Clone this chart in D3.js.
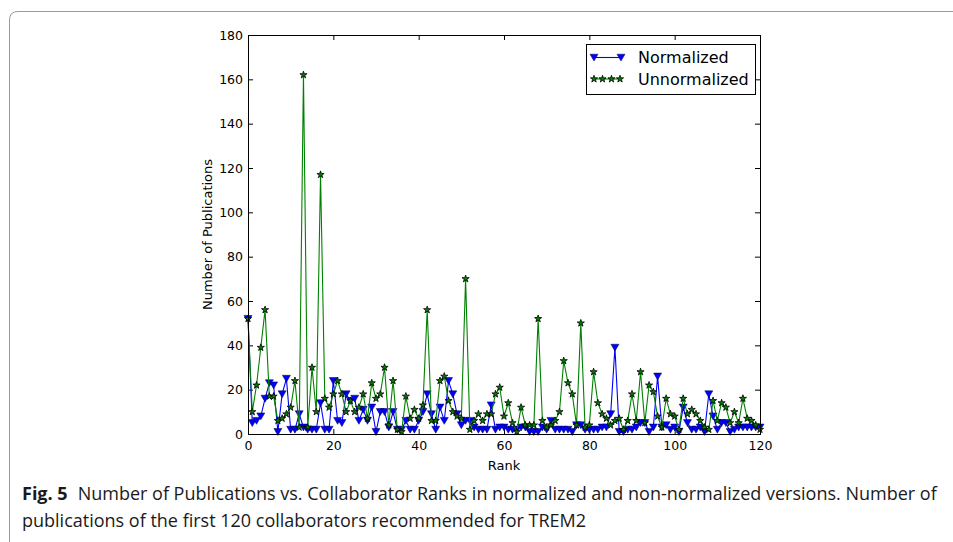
<!DOCTYPE html>
<html>
<head>
<meta charset="utf-8">
<script src="https://cdn.jsdelivr.net/npm/d3@7"></script>
<style>
  html, body { margin: 0; padding: 0; background: #fff; }
  svg { display: block; }
</style>
</head>
<body>
<svg id="fig" width="953" height="542"></svg>
<script>
// Collaborator ranks 0..120
const ranks = d3.range(0, 121);

// Number of publications per collaborator, ranked by normalized score
const normalized = [
  52, 5, 6, 8, 16, 23, 22, 1, 18, 25,
  2, 2, 9, 3, 2, 2, 2, 14, 2, 2,
  24, 6, 5, 18, 15, 16, 6, 11, 6, 12,
  1, 10, 10, 3, 10, 2, 2, 6, 2, 2,
  6, 10, 18, 9, 2, 12, 6, 24, 18, 9,
  4, 6, 6, 3, 2, 2, 2, 13, 2, 3,
  3, 2, 2, 2, 3, 3, 1, 1, 1, 3,
  2, 6, 2, 2, 2, 2, 1, 4, 4, 2,
  2, 2, 2, 3, 3, 9, 39, 1, 1, 2,
  2, 3, 5, 5, 1, 3, 26, 3, 4, 2,
  3, 1, 12, 5, 2, 2, 3, 1, 18, 8,
  2, 5, 5, 1, 2, 3, 3, 3, 3, 3,
  3
];

// Number of publications per collaborator, ranked by unnormalized score
const unnormalized = [
  52, 10, 22, 39, 56, 17, 17, 6, 7, 9,
  12, 24, 3, 162, 3, 30, 10, 117, 16, 12,
  18, 24, 18, 10, 15, 10, 12, 18, 7, 23,
  16, 18, 30, 4, 24, 2, 1, 17, 7, 11,
  7, 13, 56, 6, 6, 24, 26, 15, 10, 8,
  7, 70, 2, 6, 9, 6, 9, 9, 18, 21,
  8, 14, 5, 1, 12, 4, 4, 4, 52, 6,
  3, 4, 6, 10, 33, 23, 18, 4, 50, 3,
  4, 28, 14, 9, 7, 4, 6, 7, 2, 6,
  18, 6, 28, 5, 22, 19, 8, 3, 16, 9,
  8, 2, 16, 9, 11, 9, 6, 3, 2, 15,
  6, 14, 12, 5, 10, 5, 16, 7, 6, 4,
  2
];

const xTicks = [0, 20, 40, 60, 80, 100, 120];
const yTicks = [0, 20, 40, 60, 80, 100, 120, 140, 160, 180];
const seriesNames = ["Normalized", "Unnormalized"];
const captionLabel = "Fig. 5";
const captionLine1 = "Number of Publications vs. Collaborator Ranks in normalized and non-normalized versions. Number of";
const captionLine2 = "publications of the first 120 collaborators recommended for TREM2";

const svg = d3.select("#fig");
const plotFont = "'DejaVu Sans', sans-serif";

// Frame around the figure panel
svg.append("path")
  .attr("d", "M9.5,542 L9.5,20 Q9.5,11.5 18,11.5 L953,11.5")
  .attr("fill", "none")
  .attr("stroke", "#9a9a9a")
  .attr("stroke-width", 1);

const L = 248, R = 760, T = 35, B = 434;
const x = d3.scaleLinear().domain([0, 120]).range([L, R]);
const y = d3.scaleLinear().domain([0, 180]).range([B, T]);

const tickLen = 5;
function styleAxis(g) {
  g.select(".domain").remove();
  g.selectAll("line").attr("stroke", "#000").attr("stroke-width", 1);
  g.selectAll("text").attr("font-family", plotFont).attr("font-size", 12.5).attr("fill", "#000");
}

// Axes with inward ticks on all four sides
svg.append("g").attr("transform", `translate(0,${B})`)
  .call(d3.axisBottom(x).tickValues(xTicks).tickSizeInner(-tickLen).tickSizeOuter(0).tickPadding(7))
  .call(styleAxis);
svg.append("g").attr("transform", `translate(0,${T})`)
  .call(d3.axisTop(x).tickValues(xTicks).tickSizeInner(-tickLen).tickSizeOuter(0).tickFormat(""))
  .call(styleAxis);
svg.append("g").attr("transform", `translate(${L},0)`)
  .call(d3.axisLeft(y).tickValues(yTicks).tickSizeInner(-tickLen).tickSizeOuter(0).tickPadding(5))
  .call(styleAxis);
svg.append("g").attr("transform", `translate(${R},0)`)
  .call(d3.axisRight(y).tickValues(yTicks).tickSizeInner(-tickLen).tickSizeOuter(0).tickFormat(""))
  .call(styleAxis);

// Markers
const triPath = "M-4,-3.3 L4,-3.3 L0,3.6 Z";
const starSym = d3.symbol().type(d3.symbolStar).size(16);

const plot = svg.append("g");

const line = d3.line().x((d, i) => x(ranks[i])).y(d => y(d));

plot.append("path").datum(normalized)
  .attr("d", line).attr("fill", "none").attr("stroke", "#0000ff").attr("stroke-width", 1.1);
plot.append("g").selectAll("path").data(normalized).join("path")
  .attr("d", triPath)
  .attr("transform", (d, i) => `translate(${x(ranks[i])},${y(d)})`)
  .attr("fill", "#0000ff").attr("stroke", "#000040").attr("stroke-width", 0.5);

plot.append("path").datum(unnormalized)
  .attr("d", line).attr("fill", "none").attr("stroke", "#008000").attr("stroke-width", 1.1);
plot.append("g").selectAll("path").data(unnormalized).join("path")
  .attr("d", starSym)
  .attr("transform", (d, i) => `translate(${x(ranks[i])},${y(d)})`)
  .attr("fill", "#008000").attr("stroke", "#000").attr("stroke-width", 0.8);

// Plot frame
svg.append("rect")
  .attr("x", L + 0.5).attr("y", T + 0.5).attr("width", R - L).attr("height", B - T)
  .attr("fill", "none").attr("stroke", "#000").attr("stroke-width", 1);

// Axis labels
svg.append("text")
  .attr("x", (L + R) / 2).attr("y", 470)
  .attr("text-anchor", "middle")
  .attr("font-family", plotFont).attr("font-size", 13)
  .text("Rank");
svg.append("text")
  .attr("transform", `translate(212,${(T + B) / 2}) rotate(-90)`)
  .attr("text-anchor", "middle")
  .attr("font-family", plotFont).attr("font-size", 13)
  .text("Number of Publications");

// Legend
const lg = svg.append("g");
lg.append("rect")
  .attr("x", 586.5).attr("y", 44.5).attr("width", 169).attr("height", 50)
  .attr("fill", "#fff").attr("stroke", "#000").attr("stroke-width", 1);
const lgY = [57.5, 79];
// Normalized entry: line with a marker at each end
lg.append("line").attr("x1", 594).attr("x2", 621).attr("y1", lgY[0]).attr("y2", lgY[0])
  .attr("stroke", "#0000ff").attr("stroke-width", 1.1);
[594, 621].forEach(px => lg.append("path").attr("d", triPath)
  .attr("transform", `translate(${px},${lgY[0]})`)
  .attr("fill", "#0000ff").attr("stroke", "#000040").attr("stroke-width", 0.5));
// Unnormalized entry: line with four star markers
lg.append("line").attr("x1", 594).attr("x2", 620).attr("y1", lgY[1]).attr("y2", lgY[1])
  .attr("stroke", "#008000").attr("stroke-width", 1.1);
[594, 602.5, 611.5, 620].forEach(px => lg.append("path").attr("d", starSym)
  .attr("transform", `translate(${px},${lgY[1]})`)
  .attr("fill", "#008000").attr("stroke", "#000").attr("stroke-width", 0.8));
seriesNames.forEach((name, i) => {
  lg.append("text")
    .attr("x", 638).attr("y", lgY[i] + 5.5)
    .attr("font-family", plotFont).attr("font-size", 16)
    .text(name);
});

// Caption
const capFont = "'Open Sans', sans-serif";
const cap = svg.append("text")
  .attr("x", 22).attr("y", 500)
  .attr("font-family", capFont).attr("font-size", 18).attr("fill", "#1a1a1a");
cap.append("tspan").attr("font-weight", "bold").text(captionLabel);
cap.append("tspan").attr("dx", 10).text(captionLine1);
svg.append("text")
  .attr("x", 22).attr("y", 527)
  .attr("font-family", capFont).attr("font-size", 18).attr("fill", "#1a1a1a")
  .text(captionLine2);
</script>
</body>
</html>
